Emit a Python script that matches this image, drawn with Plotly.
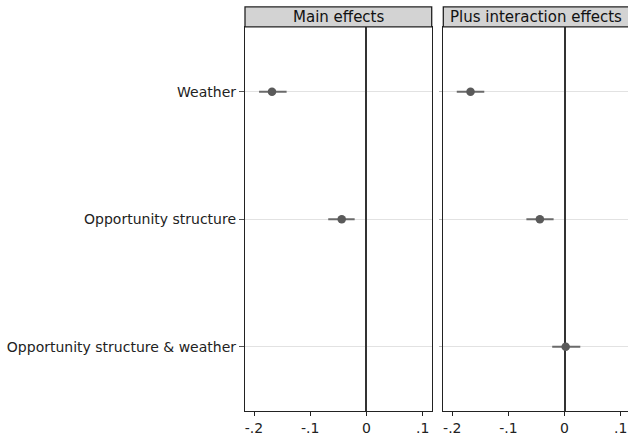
import plotly.graph_objects as go

categories = ["Weather", "Opportunity structure", "Opportunity structure & weather"]
main_est = [-0.168, -0.044, None]
main_lo = [-0.191, -0.068, None]
main_hi = [-0.142, -0.021, None]
int_est = [-0.1675, -0.044, 0.002]
int_lo = [-0.192, -0.068, -0.022]
int_hi = [-0.143, -0.0195, 0.028]
panel_titles = ["Main effects", "Plus interaction effects"]
tick_vals = [-0.2, -0.1, 0, 0.1]
tick_text = ["-.2", "-.1", "0", ".1"]

FONT = "DejaVu Sans"
MARK = "#5a5a5a"
CI = "#6a6a6a"


def err(est, lo, hi):
    plus = [None if e is None else h - e for e, h in zip(est, hi)]
    minus = [None if e is None else e - l for e, l in zip(est, lo)]
    return plus, minus


fig = go.Figure()
for est, lo, hi, xa, ya in [(main_est, main_lo, main_hi, "x", "y"),
                            (int_est, int_lo, int_hi, "x2", "y2")]:
    p, m = err(est, lo, hi)
    xs = [e for e in est if e is not None]
    ys = [c for c, e in zip(categories, est) if e is not None]
    ps = [v for v in p if v is not None]
    ms = [v for v in m if v is not None]
    fig.add_trace(go.Scatter(
        x=xs, y=ys, mode="markers", xaxis=xa, yaxis=ya,
        marker=dict(color=MARK, size=8.5),
        error_x=dict(type="data", symmetric=False, array=ps, arrayminus=ms,
                     color=CI, thickness=2, width=0),
        showlegend=False, hoverinfo="skip"))

x1d = [245 / 628, 431.7 / 628]
x2d = [443.3 / 628, 1.0]
yd = [1 - 413 / 436, 1 - 27 / 436]

common_x = dict(tickvals=tick_vals, ticktext=tick_text, ticks="outside", ticklen=4,
                tickcolor="#222", showgrid=False, zeroline=True, zerolinecolor="#333",
                zerolinewidth=1.5, showline=True, linecolor="#222", linewidth=1.3,
                mirror=True, tickfont=dict(family=FONT, size=14, color="#222"))
common_y = dict(type="category", categoryorder="array", categoryarray=categories,
                range=[2.505, -0.51], showgrid=True, gridcolor="#e2e2e2", gridwidth=1,
                zeroline=False, showline=True, linecolor="#222", linewidth=1.3,
                ticks="outside", ticklen=5, tickcolor="#555",
                tickfont=dict(family=FONT, size=14, color="#222"))

fig.update_layout(
    width=628, height=436, margin=dict(l=0, r=0, t=0, b=0),
    paper_bgcolor="white", plot_bgcolor="white",
    xaxis=dict(domain=x1d, range=[-0.216, 0.116], anchor="y", **common_x),
    xaxis2=dict(domain=x2d, range=[-0.216, 0.113], anchor="y2", **common_x),
    yaxis=dict(domain=yd, anchor="x", mirror=True, **common_y),
    yaxis2=dict(domain=yd, anchor="x2", matches="y", showticklabels=False, mirror=False,
                **{k: v for k, v in common_y.items() if k not in ("tickfont",)}),
)
fig.update_layout(yaxis2=dict(ticklen=3, tickcolor="#bbb"))

strip_top = 1 - 7 / 436
strip_right = [x1d[1], 1.01]
for dom, right, title in zip([x1d, x2d], strip_right, panel_titles):
    fig.add_shape(type="rect", xref="paper", yref="paper",
                  x0=dom[0], x1=right, y0=yd[1], y1=strip_top,
                  fillcolor="#d3d3d3", line=dict(color="#222", width=1.3), layer="above")
    fig.add_annotation(xref="paper", yref="paper", x=(dom[0] + dom[1]) / 2,
                       y=(yd[1] + strip_top) / 2, text=title, showarrow=False,
                       font=dict(family=FONT, size=15, color="#111"),
                       xanchor="center", yanchor="middle")

fig.write_html("out.html", config={"displayModeBar": False},
               post_script="document.body.style.margin='0';document.body.style.overflow='hidden';")
